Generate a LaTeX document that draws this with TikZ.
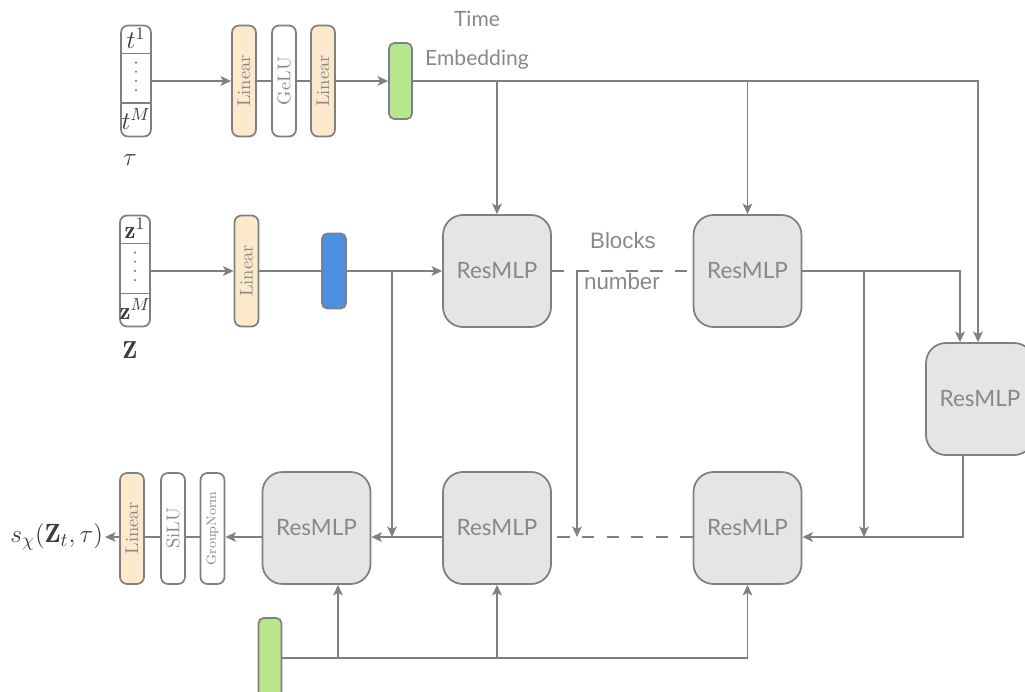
\documentclass[tikz,border=0pt]{standalone}
\usepackage{amsmath}
\usepackage{amssymb}
\usepackage{fontspec}
\usepackage{tikz}
\usetikzlibrary{positioning,arrows.meta}
\usepackage{xcolor}
\newfontfamily\latofont{Lato}
\newfontfamily\arialfont{Liberation Sans}
\definecolor{linegray}{RGB}{128, 128, 128}
\definecolor{textgray}{RGB}{136, 136, 136}
\definecolor{darktext}{RGB}{60, 60, 60}
\definecolor{blockfill}{RGB}{229, 229, 229}
\definecolor{linearfill}{RGB}{252, 233, 204}
\definecolor{embedgreen}{RGB}{184, 230, 138}
\definecolor{featblue}{RGB}{74, 144, 226}

\begin{document}
\begin{tikzpicture}[
        >={Stealth[length=6pt, width=5.5pt, inset=1.5pt]},
        % Node styles
        vecbox/.style={draw=linegray, line width=1pt, rounded corners=4pt, minimum width=0.6cm, minimum height=2.22cm},
        layer/.style={draw=linegray, line width=1pt, rounded corners=4pt, minimum width=0.48cm, minimum height=2.22cm, inner sep=0pt, text=textgray, font=\fontsize{10.5}{11}\selectfont},
        linear/.style={layer, fill=linearfill},
        embed/.style={draw=linegray, fill=embedgreen, line width=1pt, rounded corners=3pt, minimum width=0.46cm, minimum height=1.52cm},
        feat/.style={draw=linegray, fill=featblue, line width=1pt, rounded corners=3pt, minimum width=0.48cm, minimum height=1.5cm},
        resblock/.style={draw=linegray, fill=blockfill, line width=1pt, rounded corners=0.4cm, minimum width=2.16cm, minimum height=2.24cm, text=textgray, font=\latofont\fontsize{12.8}{14}\selectfont},
        vecentry/.style={text=darktext, font=\fontsize{14}{16}\selectfont, inner sep=0pt},
        note/.style={text=textgray, font=\latofont\fontsize{12}{14}\selectfont},
        wire/.style={draw=linegray, line width=1pt},
        vdotline/.style={draw=linegray, line width=1.4pt, line cap=round, dash pattern=on 0pt off 5.2pt}
    ]
    \useasboundingbox (0, 0) rectangle (20.5, 13.82);

    % Time input and time embedding
    \node[vecbox] (taubox) at (2.72, 12.2) {};
    \node[linear] (tlin1) at (4.88, 12.2) {\rotatebox{90}{Linear}};
    \node[layer] (tgelu) at (5.68, 12.2) {\rotatebox{90}{GeLU}};
    \node[linear] (tlin2) at (6.46, 12.2) {\rotatebox{90}{Linear}};
    \node[embed] (temb) at (8.01, 12.2) {};
    \node[note] (timelbl) at (9.54, 13.44) {Time};
    \node[note] (emblbl) at (9.54, 12.62) {Embedding};

    % Data input
    \node[vecbox] (zbox) at (2.7, 8.4) {};
    \node[linear] (zlin) at (4.93, 8.4) {\rotatebox{90}{Linear}};
    \node[feat] (zfeat) at (6.68, 8.4) {};

    % Vector contents
    \draw[wire] ([yshift=-0.58cm]taubox.north west) -- ([yshift=-0.58cm]taubox.north east);
    \draw[wire] ([yshift=0.68cm]taubox.south west) -- ([yshift=0.68cm]taubox.south east);
    \node[vecentry] (tfirst) at ([yshift=-0.28cm]taubox.north) {$t^1$};
    \node[vecentry] (tlast) at ([yshift=0.36cm]taubox.south) {$t^M$};
    \draw[vdotline] ([yshift=-0.76cm]taubox.north) -- ([yshift=0.84cm]taubox.south);
    \node[vecentry] (taulbl) at (2.6, 10.62) {$\tau$};

    \draw[wire] ([yshift=-0.58cm]zbox.north west) -- ([yshift=-0.58cm]zbox.north east);
    \draw[wire] ([yshift=0.68cm]zbox.south west) -- ([yshift=0.68cm]zbox.south east);
    \node[vecentry] (zfirst) at ([yshift=-0.28cm]zbox.north) {$\mathbf{z}^1$};
    \node[vecentry] (zlast) at ([yshift=0.36cm]zbox.south) {$\mathbf{z}^M$};
    \draw[vdotline] ([yshift=-0.76cm]zbox.north) -- ([yshift=0.84cm]zbox.south);
    \node[vecentry] (zlbl) at (2.6, 6.82) {$\mathbf{Z}$};

    % Residual blocks
    \node[resblock] (res1) at (9.94, 8.4) {ResMLP};
    \node[resblock] (res2) at (14.95, 8.4) {ResMLP};
    \node[resblock] (res5) at (19.6, 5.84) {ResMLP};
    \node[resblock] (res3) at (14.95, 3.26) {ResMLP};
    \node[resblock] (res4) at (9.94, 3.26) {ResMLP};
    \node[resblock] (res6) at (6.33, 3.26) {ResMLP};
    \node[text=textgray, font=\arialfont\fontsize{12.7}{14}\selectfont] (blkslbl) at (12.46, 9.0) {Blocks};
    \node[text=textgray, font=\arialfont\fontsize{12.7}{14}\selectfont] (numlbl) at (12.44, 8.18) {number};

    % Output head
    \node[layer] (gnorm) at (4.25, 3.25) {\rotatebox{90}{\fontsize{7.5}{8}\selectfont GroupNorm}};
    \node[layer] (silu) at (3.46, 3.25) {\rotatebox{90}{SiLU}};
    \node[linear] (olin) at (2.64, 3.25) {\rotatebox{90}{Linear}};
    \node[text=darktext, font=\fontsize{15}{17}\selectfont, anchor=east, inner sep=1pt] (outlbl) at (2.1, 3.08) {$s_\chi(\mathbf{Z}_t, \tau)$};

    % Second time embedding
    \node[embed, minimum height=1.6cm] (bemb) at (5.4, 0.66) {};

    % Helper points
    \coordinate (lowrow) at (0, 3.08);
    \coordinate (tcorner) at (19.56, 12.2);
    \coordinate (rcorner) at (19.2, 8.4);
    \coordinate (rbranch) at (17.28, 8.4);
    \coordinate (zbranch) at (7.84, 8.4);
    \coordinate (dbranch) at (11.54, 8.4);
    \coordinate (r5out) at (19.26, 5.84);
    \coordinate (g6) at (6.76, 0.66);

    % Time path
    \draw[->, wire] (taubox) -- (tlin1);
    \draw[wire] (tlin1) -- (tgelu);
    \draw[wire] (tgelu) -- (tlin2);
    \draw[->, wire] (tlin2) -- (temb);
    \draw[->, wire] (temb.east) -- (tcorner) -- (tcorner |- res5.north);
    \draw[->, wire] (res1.north |- temb.east) -- (res1.north);
    \draw[->, wire] (res2.north |- temb.east) -- (res2.north);

    % Data path
    \draw[->, wire] (zbox) -- (zlin);
    \draw[wire] (zlin) -- (zfeat);
    \draw[->, wire] (zfeat) -- (res1);
    \draw[->, wire] (zbranch) -- (zbranch |- lowrow);
    \draw[wire, dash pattern=on 7pt off 7pt] (res1) -- (res2);
    \draw[->, wire] (dbranch) -- (dbranch |- lowrow);
    \draw[->, wire] (res2.east) -- (rcorner) -- (rcorner |- res5.north);
    \draw[->, wire] (rbranch) -- (rbranch |- lowrow);
    \draw[->, wire] (r5out |- res5.south) -- (r5out |- lowrow) -- (res3.east |- lowrow);
    \draw[wire, dash pattern=on 7pt off 7pt] (res3.west |- lowrow) -- (res4.east |- lowrow);
    \draw[->, wire] (res4.west |- lowrow) -- (res6.east |- lowrow);
    \draw[->, wire] (res6.west |- lowrow) -- (gnorm.east |- lowrow);
    \draw[wire] (gnorm.west |- lowrow) -- (silu.east |- lowrow);
    \draw[wire] (silu.west |- lowrow) -- (olin.east |- lowrow);
    \draw[->, wire] (olin.west |- lowrow) -- (outlbl.east);

    % Time into lower blocks
    \draw[wire] (bemb.east) -- (res3.south |- bemb.east);
    \draw[->, wire] (g6) -- (g6 |- res6.south);
    \draw[->, wire] (res4.south |- bemb.east) -- (res4.south);
    \draw[->, wire] (res3.south |- bemb.east) -- (res3.south);

\end{tikzpicture}
\end{document}
